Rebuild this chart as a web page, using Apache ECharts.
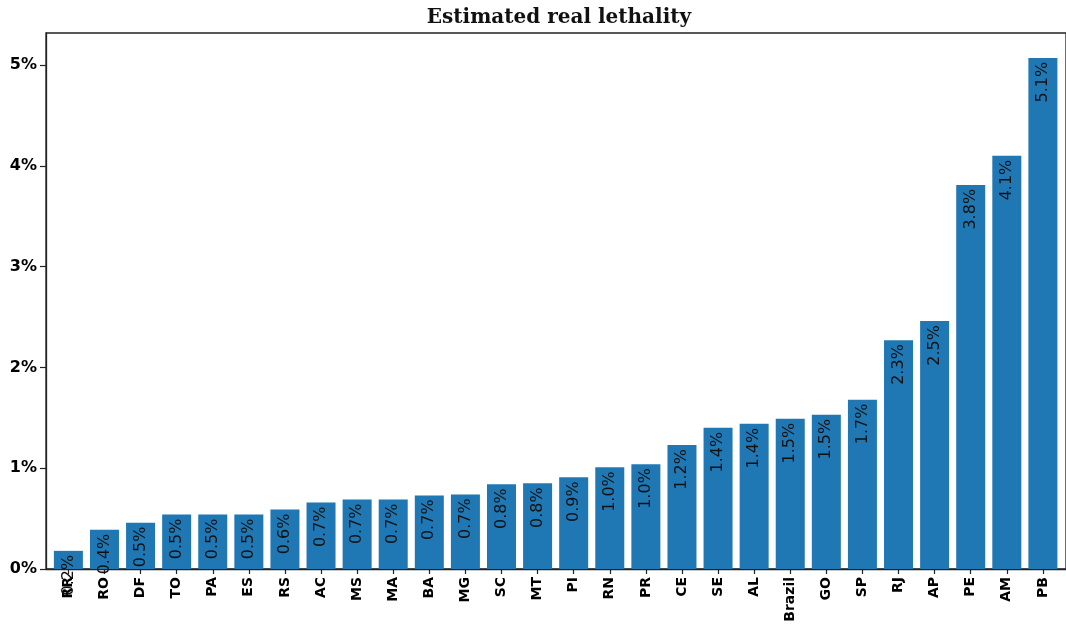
<!DOCTYPE html>
<html>
<head>
<meta charset="utf-8">
<script src="https://cdn.jsdelivr.net/npm/echarts@6/dist/echarts.min.js"></script>
<style>
html,body{margin:0;padding:0;background:#fff;}
#chart{width:1066px;height:628px;}
</style>
</head>
<body>
<div id="chart"></div>
<script>
const categories = ['RR','RO','DF','TO','PA','ES','RS','AC','MS','MA','BA','MG','SC','MT','PI','RN','PR','CE','SE','AL','Brazil','GO','SP','RJ','AP','PE','AM','PB'];
const lethality = [0.18,0.39,0.46,0.54,0.54,0.54,0.59,0.66,0.69,0.69,0.73,0.74,0.84,0.85,0.91,1.01,1.04,1.23,1.40,1.44,1.49,1.53,1.68,2.27,2.46,3.81,4.10,5.07];
const yTicks = [0,1,2,3,4,5];
const titleText = 'Estimated real lethality';

const chart = echarts.init(document.getElementById('chart'), null, {renderer:'canvas'});
const axisColor = '#222';
const catIdx = categories.map((c,i)=>i);
chart.setOption({
  animation:false,
  backgroundColor:'#fff',
  title:{
    text:titleText,
    left:559, top:8, padding:0, textAlign:'center',
    textStyle:{fontFamily:'DejaVu Serif', fontWeight:'bold', fontSize:20, color:'#111'}
  },
  grid:{left:46, right:-10, top:33, bottom:59, show:true, borderColor:axisColor, borderWidth:1.3, backgroundColor:'transparent'},
  xAxis:{
    type:'value', min:-0.62, max:27.64,
    splitLine:{show:false},
    axisLine:{show:true, onZero:false, lineStyle:{color:axisColor, width:1.3}},
    axisTick:{show:true, length:5, customValues:catIdx, lineStyle:{color:axisColor, width:1.2}},
    axisLabel:{
      customValues:catIdx, rotate:90, margin:8,
      fontFamily:'DejaVu Sans', fontWeight:'bold', fontSize:14, color:'#000',
      formatter:(v)=>categories[Math.round(v)] || ''
    }
  },
  yAxis:{
    type:'value', min:0, max:5.317,
    splitLine:{show:false},
    axisLine:{show:true, onZero:false, lineStyle:{color:axisColor, width:1.3}},
    axisTick:{show:true, length:6, customValues:yTicks, lineStyle:{color:axisColor, width:1.2}},
    axisLabel:{
      customValues:yTicks, margin:9,
      fontFamily:'DejaVu Sans', fontWeight:'bold', fontSize:16, color:'#000',
      formatter:(v)=>Math.round(v)+'%'
    }
  },
  series:[{
    type:'bar',
    data:lethality.map((v,i)=>[i,v]),
    barWidth:29,
    itemStyle:{color:'#1f77b4'},
    label:{
      show:true, position:'insideTop', rotate:90, align:'right', verticalAlign:'middle', distance:4,
      fontFamily:'DejaVu Sans', fontSize:16, color:'#111',
      formatter:(p)=>p.value[1].toFixed(1)+'%'
    }
  }]
});
</script>
</body>
</html>
